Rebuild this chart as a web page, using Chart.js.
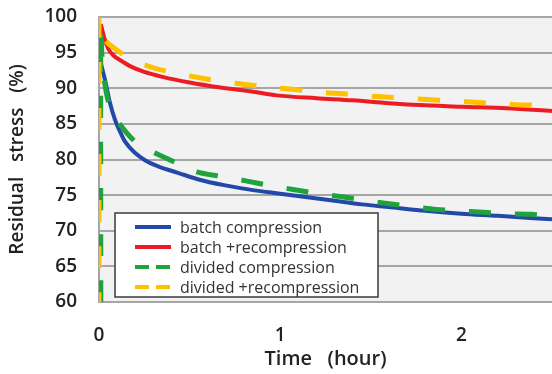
<!DOCTYPE html>
<html>
<head>
<meta charset="utf-8">
<script src="https://cdn.jsdelivr.net/npm/chart.js@4.4.1/dist/chart.umd.min.js"></script>
<style>
  html, body { margin: 0; padding: 0; background: #ffffff; }
  #wrap { width: 552px; height: 374px; position: relative; }
</style>
</head>
<body>
<div id="wrap"><canvas id="c" width="552" height="374"></canvas></div>
<script>
// ---- data ----
const seriesLabels = ["batch compression", "batch +recompression", "divided compression", "divided +recompression"];

const batchCompTime = [0.01, 0.033, 0.06, 0.088, 0.12, 0.144, 0.2, 0.254, 0.33, 0.44, 0.55, 0.69, 0.85, 1.0, 1.15, 1.3, 1.45, 1.61, 1.8, 2.0, 2.2, 2.5];
const batchCompValue = [93.5, 91.2, 88.0, 85.6, 83.7, 82.5, 80.9, 79.9, 79.0, 78.1, 77.2, 76.4, 75.7, 75.2, 74.7, 74.2, 73.7, 73.3, 72.8, 72.4, 72.1, 71.6];

const batchRecTime = [0.01, 0.03, 0.05, 0.08, 0.12, 0.18, 0.25, 0.35, 0.5, 0.67, 0.85, 0.98, 1.2, 1.4, 1.6, 1.8, 2.0, 2.25, 2.5];
const batchRecValue = [99.0, 97.0, 95.6, 94.6, 93.9, 93.0, 92.3, 91.6, 90.8, 90.1, 89.5, 89.0, 88.6, 88.3, 87.9, 87.6, 87.4, 87.2, 86.8];

const dividedCompTime = [0.01, 0.01, 0.02, 0.05, 0.1, 0.2, 0.31, 0.43, 0.55, 0.68, 0.81, 0.93, 1.07, 1.19, 1.33, 1.46, 1.6, 1.72, 1.86, 1.98, 2.12, 2.25, 2.39, 2.5];
const dividedCompValue = [60, 98, 93, 88.3, 85.5, 82.5, 80.9, 79.5, 78.2, 77.6, 77.0, 76.4, 75.8, 75.3, 74.8, 74.3, 73.8, 73.4, 73.0, 72.8, 72.6, 72.4, 72.3, 72.1];

const dividedRecTime = [0, 0, 0.02, 0.05, 0.12, 0.18, 0.31, 0.43, 0.57, 0.69, 0.82, 0.96, 1.09, 1.23, 1.36, 1.5, 1.62, 1.76, 1.9, 2.03, 2.16, 2.3, 2.44, 2.5];
const dividedRecValue = [60, 100, 97.5, 96.3, 95.0, 94.0, 92.8, 92.1, 91.4, 90.9, 90.5, 90.1, 89.8, 89.4, 89.2, 88.9, 88.7, 88.5, 88.3, 88.1, 87.9, 87.7, 87.6, 87.5];

const xTicks = [0, 1, 2];
const yTicks = [60, 65, 70, 75, 80, 85, 90, 95, 100];

function pts(t, v) { return t.map((x, i) => ({ x: x, y: v[i] })); }

const FONT = "'Open Sans', sans-serif";

const plotBg = {
  id: 'plotBg',
  beforeDraw(chart) {
    const a = chart.chartArea, ctx = chart.ctx;
    ctx.save();
    ctx.fillStyle = '#f2f2f2';
    ctx.fillRect(a.left, a.top, a.right - a.left, a.bottom - a.top);
    ctx.restore();
  }
};

const boxLegend = {
  id: 'boxLegend',
  afterDatasetsDraw(chart, args, opts) {
    const ctx = chart.ctx;
    ctx.save();
    ctx.fillStyle = '#ffffff';
    ctx.fillRect(opts.left, opts.top, opts.width, opts.height);
    ctx.strokeStyle = '#3a3a3a';
    ctx.lineWidth = 1.5;
    ctx.strokeRect(opts.left, opts.top, opts.width, opts.height);
    ctx.font = opts.fontSize + 'px ' + FONT;
    ctx.textBaseline = 'middle';
    ctx.textAlign = 'left';
    chart.data.datasets.forEach((ds, i) => {
      const y = opts.top + opts.firstRow + i * opts.rowGap;
      ctx.strokeStyle = ds.borderColor;
      ctx.lineWidth = 4;
      ctx.setLineDash(ds.borderDash && ds.borderDash.length ? opts.sampleDash : []);
      ctx.beginPath();
      ctx.moveTo(opts.left + opts.sampleX, y);
      ctx.lineTo(opts.left + opts.sampleX + opts.sampleW, y);
      ctx.stroke();
      ctx.setLineDash([]);
      ctx.fillStyle = '#333333';
      ctx.fillText(ds.label, opts.left + opts.textX, y + 1);
    });
    ctx.restore();
  }
};

new Chart(document.getElementById('c'), {
  type: 'line',
  data: {
    datasets: [
      { label: seriesLabels[0], data: pts(batchCompTime, batchCompValue), borderColor: '#2249a8', borderWidth: 4, order: 2, cubicInterpolationMode: 'monotone' },
      { label: seriesLabels[1], data: pts(batchRecTime, batchRecValue), borderColor: '#ec1c24', borderWidth: 4, order: 2, cubicInterpolationMode: 'monotone' },
      { label: seriesLabels[2], data: pts(dividedCompTime, dividedCompValue), borderColor: '#1fa33c', borderWidth: 5, borderDash: [22, 24], order: 1, tension: 0.25 },
      { label: seriesLabels[3], data: pts(dividedRecTime, dividedRecValue), borderColor: '#ffc000', borderWidth: 5, borderDash: [22, 24], borderDashOffset: 12, order: 0, tension: 0.25 }
    ]
  },
  options: {
    responsive: false,
    animation: false,
    devicePixelRatio: 1,
    layout: { padding: { top: 17, right: 0, left: 0, bottom: 0 } },
    elements: { point: { radius: 0 }, line: { fill: false, borderCapStyle: 'butt' } },
    plugins: {
      legend: { display: false },
      tooltip: { enabled: false },
      boxLegend: { left: 115, top: 213, width: 263, height: 84, firstRow: 14, rowGap: 20, sampleX: 20, sampleW: 36, sampleDash: [14, 7], textX: 65, fontSize: 16 }
    },
    scales: {
      x: {
        type: 'linear', min: 0, max: 2.5,
        afterBuildTicks(scale) { scale.ticks = xTicks.map(v => ({ value: v })); },
        afterFit(scale) { scale.height = 72; scale.paddingLeft = 0; scale.paddingRight = 0; },
        grid: { display: false, drawTicks: false },
        border: { display: true, color: '#a6a6a6', width: 2 },
        ticks: { padding: 22, color: '#222222', font: { family: FONT, size: 19, weight: '600' }, maxRotation: 0 },
        title: { display: true, text: 'Time   (hour)', color: '#222222', font: { family: FONT, size: 20, weight: '600' }, padding: { top: 0, bottom: 3 } }
      },
      y: {
        type: 'linear', min: 60, max: 100,
        afterBuildTicks(scale) { scale.ticks = yTicks.map(v => ({ value: v })); },
        afterFit(scale) { scale.width = 99; scale.paddingTop = 0; scale.paddingBottom = 0; },
        grid: { color: '#a6a6a6', lineWidth: 2, drawTicks: false },
        border: { display: true, color: '#a6a6a6', width: 2 },
        ticks: { padding: 22, color: '#222222', font: { family: FONT, size: 19, weight: '600' } },
        title: { display: true, text: 'Residual   stress   (%)', color: '#222222', font: { family: FONT, size: 19, weight: '600' }, padding: { top: 6, bottom: 0 } }
      }
    }
  },
  plugins: [plotBg, boxLegend]
});
</script>
</body>
</html>
